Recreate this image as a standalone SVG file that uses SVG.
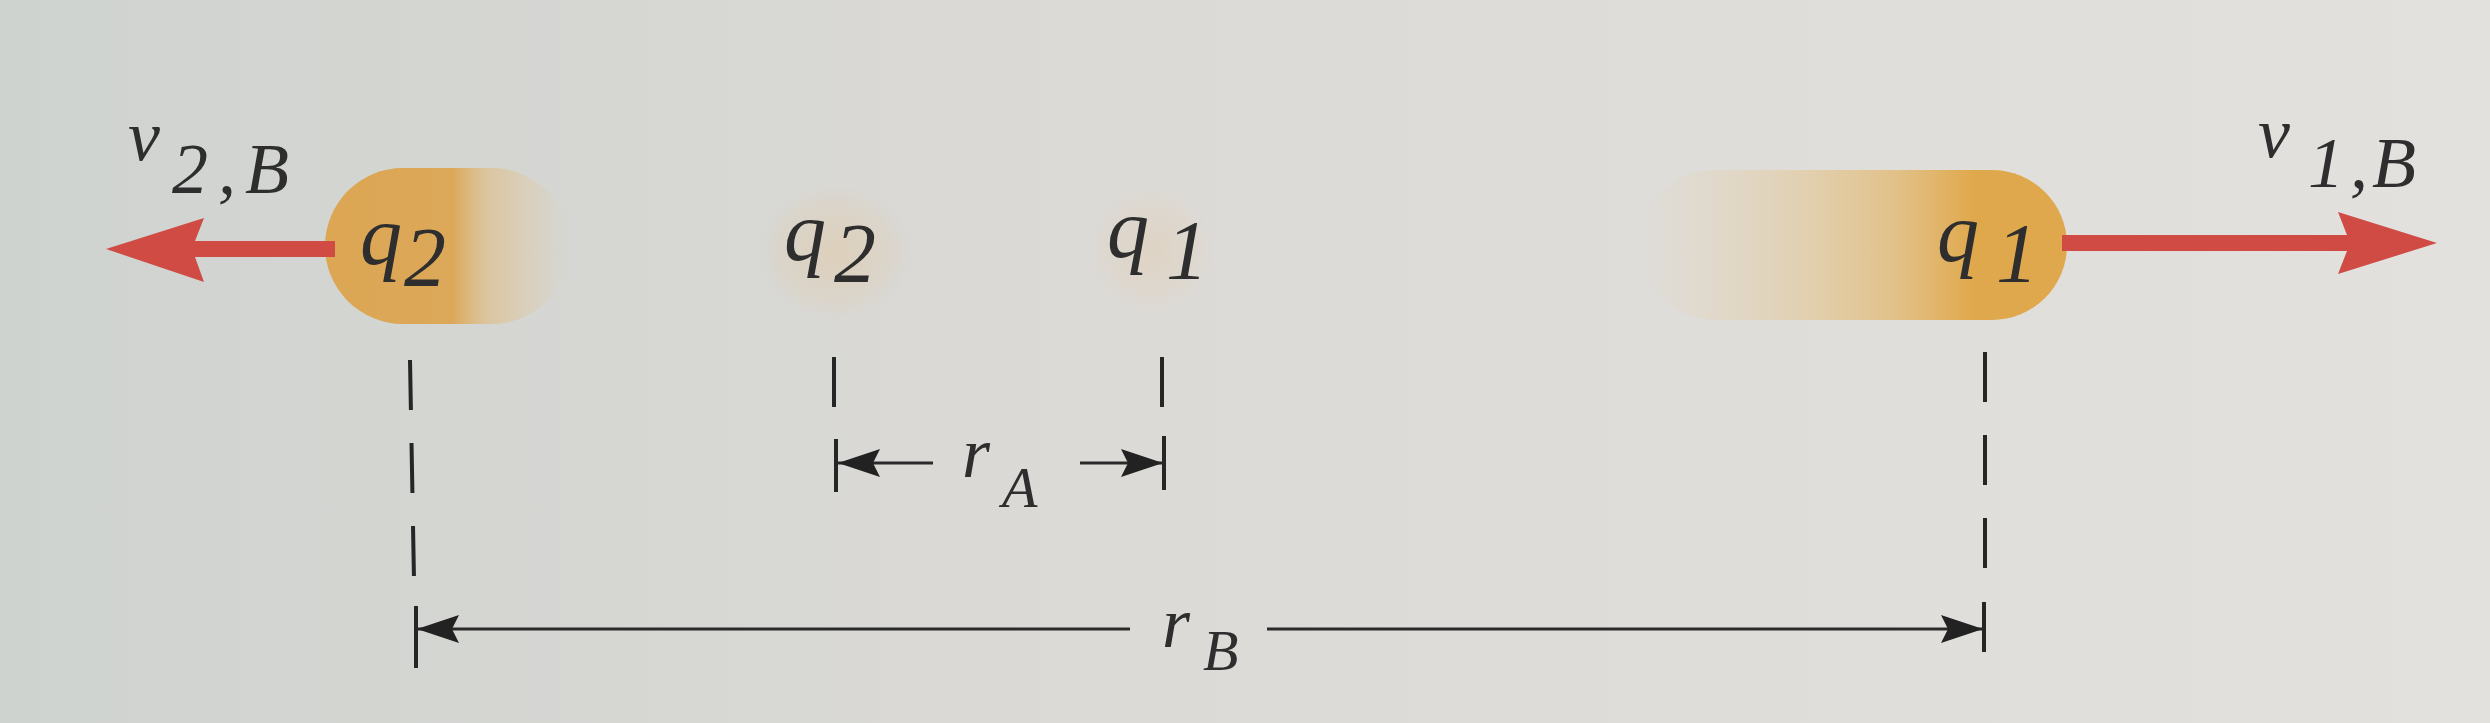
<svg xmlns="http://www.w3.org/2000/svg" width="2490" height="723" viewBox="0 0 2490 723">
  <defs>
    <style>
      .lbl { font-family: "Liberation Serif", "Times New Roman", serif; font-style: italic; fill: #2e2e2e; }
      .q { font-size: 84px; }
      .v { font-size: 72px; }
      .sub { font-size: 72px; }
      .rs { font-size: 58px; }
      .dash { stroke: #262626; stroke-width: 4; fill: none; stroke-dasharray: 50 33; }
      .tick { stroke: #262626; stroke-width: 4; fill: none; }
      .dim { stroke: #2a2a2a; stroke-width: 3; fill: none; marker-end: url(#dimHead); }
      .vel { fill: #cf4b44; }
    </style>
    <linearGradient id="bg" x1="0" y1="0" x2="1" y2="0">
      <stop offset="0" stop-color="#cfd3cf"/>
      <stop offset="0.45" stop-color="#dcdad7"/>
      <stop offset="1" stop-color="#e3e1de"/>
    </linearGradient>
    <linearGradient id="ballLeft" x1="325" y1="0" x2="570" y2="0" gradientUnits="userSpaceOnUse">
      <stop offset="0" stop-color="#dca653" stop-opacity="1"/>
      <stop offset="0.52" stop-color="#dca653" stop-opacity="0.95"/>
      <stop offset="0.66" stop-color="#e2b46a" stop-opacity="0.5"/>
      <stop offset="1" stop-color="#e6c38a" stop-opacity="0"/>
    </linearGradient>
    <linearGradient id="ballRight" x1="1640" y1="0" x2="2067" y2="0" gradientUnits="userSpaceOnUse">
      <stop offset="0" stop-color="#e8c68a" stop-opacity="0"/>
      <stop offset="0.3" stop-color="#e6bf78" stop-opacity="0.3"/>
      <stop offset="0.6" stop-color="#e2b15c" stop-opacity="0.65"/>
      <stop offset="0.78" stop-color="#e0a84c" stop-opacity="1"/>
      <stop offset="1" stop-color="#e0a84c" stop-opacity="1"/>
    </linearGradient>
    <radialGradient id="ghost">
      <stop offset="0" stop-color="#e6c08a" stop-opacity="0.35"/>
      <stop offset="0.7" stop-color="#e6c08a" stop-opacity="0.15"/>
      <stop offset="1" stop-color="#e6c08a" stop-opacity="0"/>
    </radialGradient>
    <marker id="dimHead" markerUnits="userSpaceOnUse" markerWidth="44" markerHeight="30" viewBox="0 0 44 30" refX="42" refY="15" orient="auto">
      <path d="M0,1 L42,15 L0,29 L7,15 Z" fill="#222"/>
    </marker>
  </defs>

  <rect x="0" y="0" width="2490" height="723" fill="url(#bg)"/>

  <!-- charges -->
  <g id="q2-B">
    <rect x="325" y="168" width="245" height="156" rx="78" fill="url(#ballLeft)"/>
    <text class="lbl q" x="360" y="264">q<tspan x="404" y="286">2</tspan></text>
  </g>
  <g id="q2-A">
    <ellipse cx="835" cy="252" rx="75" ry="68" fill="url(#ghost)"/>
    <text class="lbl q" x="784" y="260">q<tspan x="834" y="282">2</tspan></text>
  </g>
  <g id="q1-A">
    <ellipse cx="1152" cy="250" rx="62" ry="64" fill="url(#ghost)" opacity="0.7"/>
    <text class="lbl q" x="1107" y="257">q<tspan x="1166" y="279">1</tspan></text>
  </g>
  <g id="q1-B">
    <rect x="1640" y="170" width="427" height="150" rx="75" fill="url(#ballRight)"/>
    <text class="lbl q" x="1937" y="261">q<tspan x="1996" y="282">1</tspan></text>
  </g>

  <!-- velocity labels -->
  <g id="label-v2B">
    <text class="lbl v" x="128" y="160">v<tspan class="sub" x="172" y="193">2</tspan><tspan class="sub" x="218" y="193">,</tspan><tspan class="sub" x="245" y="193">B</tspan></text>
  </g>
  <g id="label-v1B">
    <text class="lbl v" x="2258" y="157">v<tspan class="sub" x="2308" y="187">1</tspan><tspan class="sub" x="2350" y="187">,</tspan><tspan class="sub" x="2372" y="187">B</tspan></text>
  </g>

  <!-- connectors -->
  <g id="connectors">
    <!-- velocity arrows -->
    <path class="vel" d="M106,249 L204,218 L195,241 L335,241 L335,257 L195,257 L204,282 Z"/>
    <path class="vel" d="M2437,243 L2338,212 L2347,235 L2062,235 L2062,251 L2347,251 L2338,274 Z"/>

    <!-- dashed extension lines -->
    <line class="dash" x1="410" y1="360" x2="414" y2="580"/>
    <line class="tick" x1="416" y1="606" x2="416" y2="668"/>
    <line class="dash" x1="834" y1="357" x2="834" y2="410"/>
    <line class="tick" x1="836" y1="439" x2="836" y2="492"/>
    <line class="dash" x1="1162" y1="357" x2="1162" y2="408"/>
    <line class="tick" x1="1164" y1="436" x2="1164" y2="490"/>
    <line class="dash" x1="1985" y1="352" x2="1985" y2="572"/>
    <line class="tick" x1="1984" y1="602" x2="1984" y2="652"/>

    <!-- r_A dimension -->
    <path class="dim" d="M933,463 L838,463"/>
    <path class="dim" d="M1080,463 L1163,463"/>
    <text class="lbl v" x="962" y="477">r<tspan class="rs" x="1002" y="507">A</tspan></text>

    <!-- r_B dimension -->
    <path class="dim" d="M1130,629 L417,629"/>
    <path class="dim" d="M1267,629 L1983,629"/>
    <text class="lbl v" x="1162" y="647">r<tspan class="rs" x="1203" y="670">B</tspan></text>
  </g>
</svg>
